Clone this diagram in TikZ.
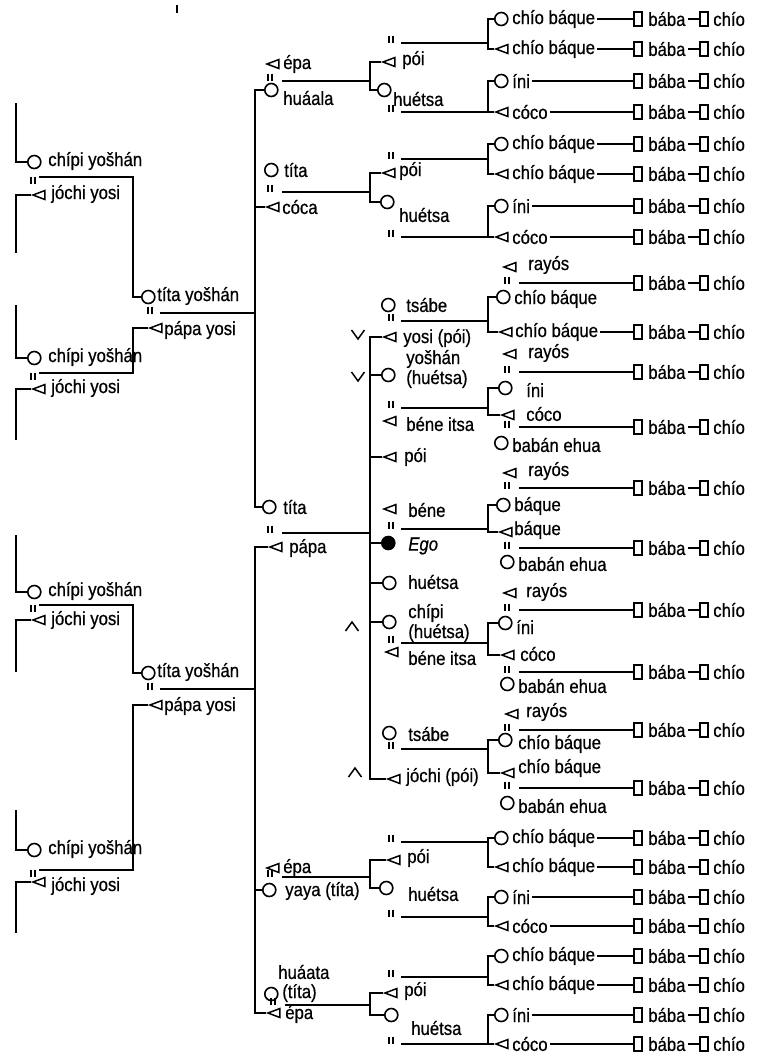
\documentclass[tikz,border=0pt]{standalone}
\usepackage{fontspec}
\setmainfont{Liberation Sans}[FakeStretch=0.88,FakeBold=0.6]
\usetikzlibrary{shapes.geometric}

\begin{document}
\begin{tikzpicture}[
  x=1pt,y=-1pt,line width=1.6pt,
  fm/.style={circle,draw,line width=1.6pt,minimum size=13pt,inner sep=0pt,anchor=west},
  eg/.style={fm,fill=black},
  ml/.style={isosceles triangle,isosceles triangle stretches,shape border rotate=180,
    draw,line width=1.5pt,minimum width=9pt,minimum height=12pt,inner sep=0pt,anchor=west},
  sq/.style={rectangle,draw,line width=1.3pt,minimum width=8pt,minimum height=14pt,inner sep=0pt},
  lb/.style={font=\fontsize{19}{20}\selectfont,inner xsep=1.5pt,inner ysep=0pt,anchor=west},
  eq/.pic={\draw[line width=1.5pt] (-1.8,-3.5) -- (-1.8,3.5) (1.8,-3.5) -- (1.8,3.5);},
  vv/.pic={\draw[line width=1.5pt] (-6.5,-5) -- (0,4) -- (6.5,-5);},
  aa/.pic={\draw[line width=1.5pt] (-6.5,5) -- (0,-4) -- (6.5,5);}
]
\useasboundingbox (0,0) rectangle (773,1061);
\draw (177,5) -- (177,13);

% great-grandparents
\node[fm] (cA) at (27,162) {};
\node[ml] (jA) at (31,195) {};
\node[fm] (cB) at (27,358) {};
\node[ml] (jB) at (31,389) {};
\node[fm] (cC) at (27,592) {};
\node[ml] (jC) at (31,620) {};
\node[fm] (cD) at (27,850) {};
\node[ml] (jD) at (31,882) {};
\foreach \g/\a/\b in {A/161/194,B/357/388,C/591/620,D/849/886}{
  \node[lb] (tc\g) at (46,\a) {chípi yošhán};
  \node[lb] (tj\g) at (49,\b) {jóchi yosi};
}
\coordinate (uA) at (16,103); \coordinate (dA) at (16,253);
\coordinate (uB) at (16,305); \coordinate (dB) at (16,440);
\coordinate (uC) at (16,535); \coordinate (dC) at (16,672);
\coordinate (uD) at (16,810); \coordinate (dD) at (16,933);
\foreach \g/\y in {A/177,B/373,C/605,D/870}{
  \draw (u\g) |- (c\g.west);
  \draw (j\g.west) -| (d\g);
  \pic at (33,\y+3) {eq};
  \coordinate (m\g) at (39,\y);
}

% tita yoshan / papa yosi
\node[fm] (ty1) at (141,297) {};
\node[ml] (py1) at (148,328) {};
\node[fm] (ty2) at (141,673) {};
\node[ml] (py2) at (148,705) {};
\node[lb] (tty1) at (155,296) {títa yošhán};
\node[lb] (tpy1) at (162,330) {pápa yosi};
\node[lb] (tty2) at (155,672) {títa yošhán};
\node[lb] (tpy2) at (162,706) {pápa yosi};
\draw (mA) -| ([xshift=-8pt]ty1.west) -- (ty1.west);
\draw (mB) -| ([xshift=-15pt]py1.west) -- (py1.west);
\draw (mC) -| ([xshift=-8pt]ty2.west) -- (ty2.west);
\draw (mD) -| ([xshift=-15pt]py2.west) -- (py2.west);
\foreach \j/\y in {1/313,2/689}{
  \pic at (150,\y-3) {eq};
  \coordinate (mT\j) at (160,\y);
  \coordinate (jT\j) at (255,\y);
  \draw (mT\j) -- (jT\j);
}

% parents' generation
\node[ml] (epa1) at (265,64) {};
\node[fm] (hua) at (264,90) {};
\node[fm] (tiC) at (264,170) {};
\node[ml] (coca) at (265,207) {};
\node[fm] (tiE) at (262,507) {};
\node[ml] (papa) at (268,547) {};
\node[ml] (epa2) at (265,868) {};
\node[fm] (yaya) at (262,890) {};
\node[fm] (hut) at (264,994) {};
\node[ml] (epa3) at (266,1013) {};
\node[lb] (tepa1) at (281,64) {épa};
\node[lb] (thua) at (281,98) {huáala};
\node[lb] (ttiC) at (282,170) {títa};
\node[lb] (tcoca) at (280,207) {cóca};
\node[lb] (ttiE) at (281,507) {títa};
\node[lb] (tpapa) at (287,548) {pápa};
\node[lb] (tepa2) at (281,868) {épa};
\node[lb] (tyaya) at (283,891) {yaya (títa)};
\node[lb] (thut1) at (276,972) {huáata};
\node[lb] (thut2) at (280,993) {(títa)};
\node[lb] (tepa3) at (283,1014) {épa};
\draw (hua.west) -| (jT1) |- (tiE.west);
\draw (coca.west) -- (coca.west -| jT1);
\draw (papa.west) -| (jT2) |- (epa3.west);
\draw (yaya.west) -- (yaya.west -| jT2);
\foreach \j/\x/\y in {1/270/81,2/270/192,3/270/533,4/270/877,5/273/1005}{
  \pic at (\x,\y-4) {eq};
  \coordinate (mP\j) at (\x+12,\y);
  \coordinate (jP\j) at (370,\y);
  \draw (mP\j) -- (jP\j);
}

% Ego's generation
\node[ml] (poiA) at (381,62) {};
\node[fm] (hueA) at (377,90) {};
\node[ml] (poiB) at (381,173) {};
\node[fm] (hueB) at (380,202) {};
\node[fm] (tsa1) at (381,305) {};
\node[ml] (yosi) at (382,337) {};
\node[fm] (yos) at (381,375) {};
\node[ml] (beni1) at (382,421) {};
\node[ml] (poiE) at (382,457) {};
\node[ml] (bene) at (382,509) {};
\node[eg] (ego) at (381,543) {};
\node[fm] (hueE) at (382,583) {};
\node[fm] (chi) at (382,622) {};
\node[ml] (beni2) at (384,652) {};
\node[fm] (tsa2) at (382,733) {};
\node[ml] (joc) at (386,779) {};
\node[ml] (poiF) at (386,860) {};
\node[fm] (hueF) at (379,888) {};
\node[ml] (poiG) at (383,993) {};
\node[fm] (hueG) at (384,1015) {};
\node[lb] (tpoiA) at (400,60) {pói};
\node[lb] (thueA) at (391,99) {huétsa};
\node[lb] (tpoiB) at (397,171) {pói};
\node[lb] (thueB) at (397,215) {huétsa};
\node[lb] (ttsa1) at (404,305) {tsábe};
\node[lb] (tyosi) at (401,338) {yosi (pói)};
\node[lb] (tyos1) at (404,359) {yošhán};
\node[lb] (tyos2) at (404,379) {(huétsa)};
\node[lb] (tbeni1) at (404,424) {béne itsa};
\node[lb] (tpoiE) at (402,457) {pói};
\node[lb] (tbene) at (406,510) {béne};
\node[lb] (tego) at (406,546) {\textit{Ego}};
\node[lb] (thueE) at (406,582) {huétsa};
\node[lb] (tchi1) at (406,613) {chípi};
\node[lb] (tchi2) at (406,633) {(huétsa)};
\node[lb] (tbeni2) at (406,658) {béne itsa};
\node[lb] (ttsa2) at (406,734) {tsábe};
\node[lb] (tjoc) at (404,777) {jóchi (pói)};
\node[lb] (tpoiF) at (405,858) {pói};
\node[lb] (thueF) at (406,894) {huétsa};
\node[lb] (tpoiG) at (402,991) {pói};
\node[lb] (thueG) at (409,1028) {huétsa};
\draw (poiA.west) -| (jP1) |- (hueA.west);
\draw (poiB.west) -| (jP2) |- (hueB.west);
\draw (yosi.west) -| (jP3) |- (joc.west);
\foreach \n in {yos,poiE,ego,hueE,chi}{
  \draw (\n.west) -- (\n.west -| jP3);
}
\draw (poiF.west) -| (jP4) |- (hueF.west);
\draw (poiG.west) -| (jP5) |- (hueG.west);
\pic at (358,335) {vv};
\pic at (358,377) {vv};
\pic at (352,626) {aa};
\pic at (355,772) {aa};
\foreach \j/\y in {1/43,2/112,3/159,4/237,5/321,6/408,7/529,8/643,9/749,10/842,11/917,12/977,13/1044}{
  \pic at (391,\y-4) {eq};
  \coordinate (mS\j) at (401,\y);
  \coordinate (jS\j) at (488,\y);
  \draw (mS\j) -- (jS\j);
}

% children's generation
\foreach \i/\y/\sh/\nm in {1/19/fm/chío báque,2/49/ml/chío báque,3/81/fm/íni,4/112/ml/cóco,
    5/144/fm/chío báque,6/174/ml/chío báque,7/206/fm/íni,8/237/ml/cóco,
    19/838/fm/chío báque,20/867/ml/chío báque,21/897/fm/íni,22/926/ml/cóco,
    23/956/fm/chío báque,24/985/ml/chío báque,25/1015/fm/íni,26/1044/ml/cóco}{
  \node[\sh] (k\i) at (494,\y) {};
  \node[lb] (n\i) at (510,\y) {\nm};
}
\node[ml] (ry1) at (502,267) {};
\node[fm] (k9) at (496,297) {};
\node[ml] (k10) at (498,332) {};
\node[ml] (ry2) at (502,354) {};
\node[fm] (k11) at (498,388) {};
\node[ml] (k12) at (500,415) {};
\node[fm] (bh1) at (494,443) {};
\node[ml] (ry3) at (502,473) {};
\node[fm] (k13) at (496,505) {};
\node[ml] (k14) at (498,532) {};
\node[fm] (bh2) at (500,562) {};
\node[ml] (ry4) at (502,593) {};
\node[fm] (k15) at (498,623) {};
\node[ml] (k16) at (500,655) {};
\node[fm] (bh3) at (500,684) {};
\node[ml] (ry5) at (504,714) {};
\node[fm] (k17) at (498,740) {};
\node[ml] (k18) at (500,773) {};
\node[fm] (bh4) at (500,803) {};
\node[lb] (try1) at (526,265) {rayós};
\node[lb] (n9) at (512,299) {chío báque};
\node[lb] (n10) at (513,332) {chío báque};
\node[lb] (try2) at (526,353) {rayós};
\node[lb] (n11) at (524,390) {íni};
\node[lb] (n12) at (524,414) {cóco};
\node[lb] (tbh1) at (510,445) {babán ehua};
\node[lb] (try3) at (526,471) {rayós};
\node[lb] (n13) at (512,506) {báque};
\node[lb] (n14) at (512,530) {báque};
\node[lb] (tbh2) at (516,564) {babán ehua};
\node[lb] (try4) at (524,592) {rayós};
\node[lb] (n15) at (514,627) {íni};
\node[lb] (n16) at (518,654) {cóco};
\node[lb] (tbh3) at (516,686) {babán ehua};
\node[lb] (try5) at (524,712) {rayós};
\node[lb] (n17) at (516,744) {chío báque};
\node[lb] (n18) at (516,768) {chío báque};
\node[lb] (tbh4) at (516,806) {babán ehua};
\foreach \a/\b/\j in {1/2/1,3/4/2,5/6/3,7/8/4,9/10/5,11/12/6,13/14/7,15/16/8,
    17/18/9,19/20/10,21/22/11,23/24/12,25/26/13}{
  \draw (k\a.west) -| (jS\j) |- (k\b.west);
}

% grandchildren: baba and chio
\foreach \i/\y in {1/19,2/49,3/81,4/112,5/144,6/174,7/206,8/237,9/283,10/332,
    11/372,12/427,13/488,14/548,15/610,16/672,17/730,18/788,19/838,20/867,
    21/897,22/926,23/956,24/985,25/1015,26/1044}{
  \node[sq] (q\i) at (638,\y) {};
  \node[lb] (b\i) at (646,\y) {bába};
  \node[sq] (p\i) at (704,\y) {};
  \node[lb] (c\i) at (711,\y) {chío};
  \draw (b\i) -- (p\i);
}
\foreach \i in {1,...,8,10,19,20,...,26}{
  \draw (n\i) -- (q\i);
}
\foreach \i/\y in {9/283,11/372,12/427,13/488,14/548,15/610,16/672,17/730,18/788}{
  \pic at (507,\y-3) {eq};
  \coordinate (mR\i) at (519,\y);
  \draw (mR\i) -- (q\i);
}
\end{tikzpicture}
\end{document}
